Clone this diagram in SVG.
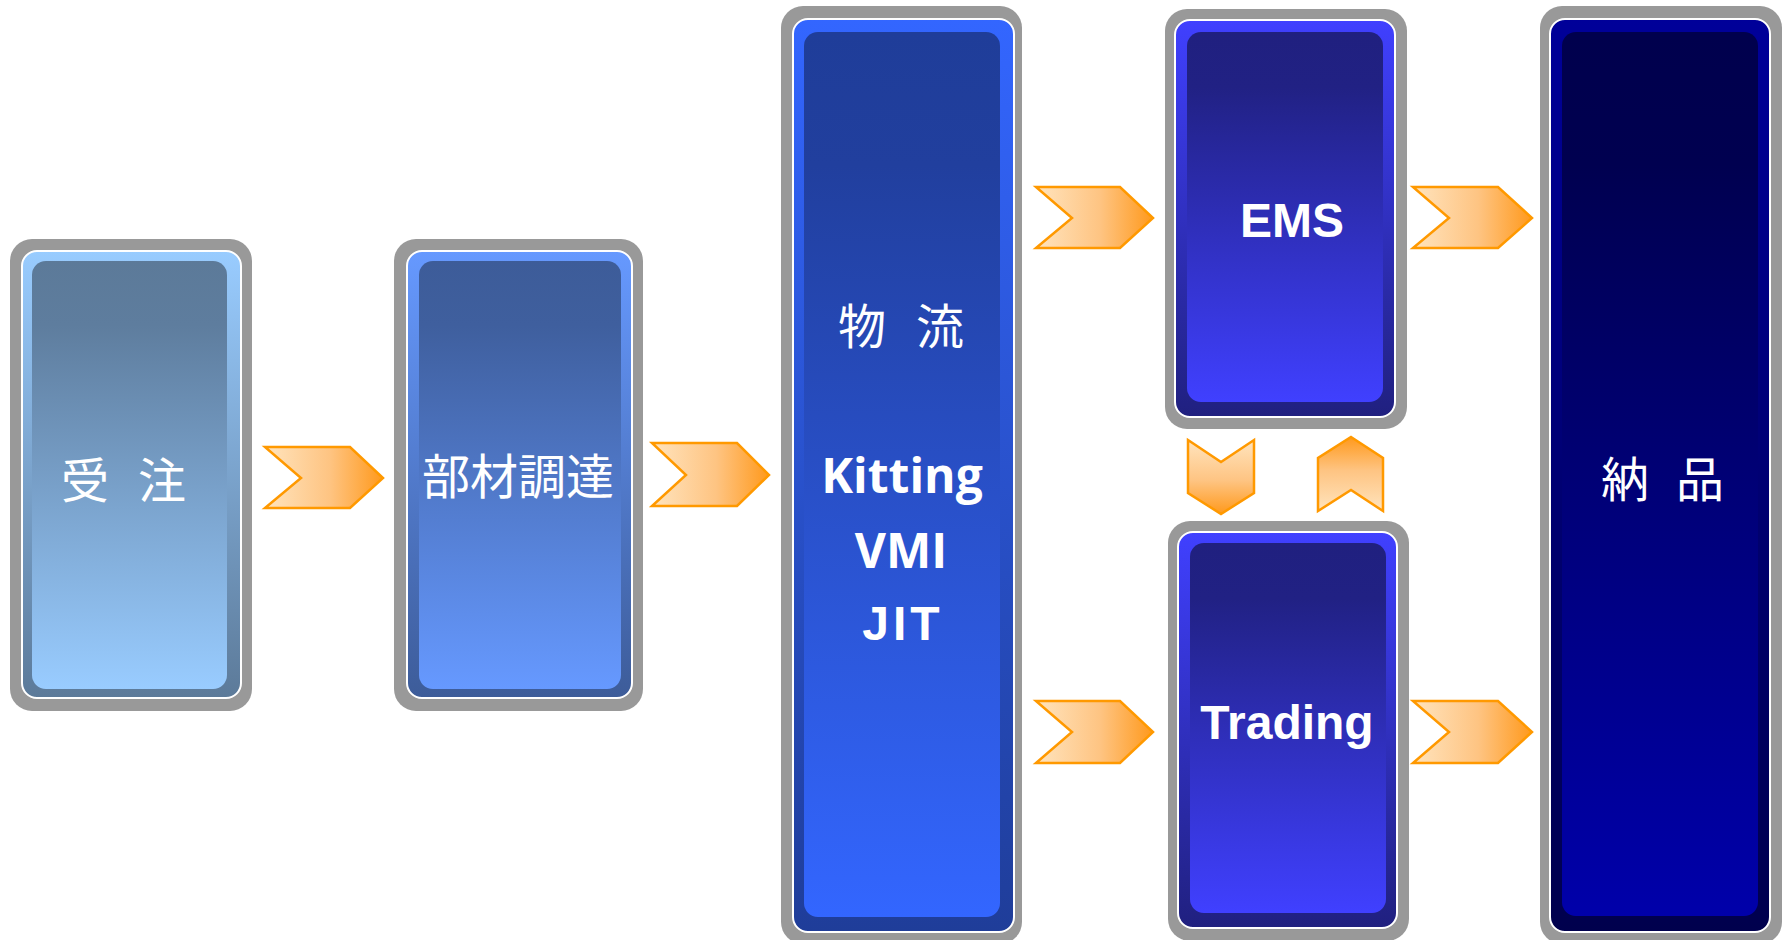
<svg xmlns="http://www.w3.org/2000/svg" width="1785" height="940" viewBox="0 0 1785 940">
<defs>
<style>
.gray{fill:#999999}
.frame{stroke:#ffffff;stroke-width:2}
.jp{font-family:"Noto Sans CJK JP","Noto Sans CJK SC",sans-serif;font-size:48px;fill:#ffffff;text-anchor:middle}
.en{font-family:"Liberation Sans",Arial,sans-serif;font-weight:bold;font-size:48px;fill:#ffffff;text-anchor:middle}
.en2{font-family:"Open Sans","DejaVu Sans",sans-serif;font-weight:bold;font-size:48px;fill:#ffffff;text-anchor:middle}
.chev{stroke:#FF9900;stroke-width:2.5;stroke-linejoin:miter}
</style>
<linearGradient id="f1" x1="0" y1="0" x2="0" y2="1"><stop offset="0" stop-color="#99CCFF"/><stop offset="1" stop-color="#5C7A99"/></linearGradient>
<linearGradient id="i1" x1="0" y1="0" x2="0" y2="1"><stop offset="0" stop-color="#5C7A99"/><stop offset="0.15" stop-color="#5E7D9E"/><stop offset="1" stop-color="#99CCFF"/></linearGradient>
<linearGradient id="f2" x1="0" y1="0" x2="0" y2="1"><stop offset="0" stop-color="#6699FF"/><stop offset="1" stop-color="#3D5C99"/></linearGradient>
<linearGradient id="i2" x1="0" y1="0" x2="0" y2="1"><stop offset="0" stop-color="#3D5C99"/><stop offset="0.15" stop-color="#3F5F9E"/><stop offset="1" stop-color="#6699FF"/></linearGradient>
<linearGradient id="f3" x1="0" y1="0" x2="0" y2="1"><stop offset="0" stop-color="#3366FF"/><stop offset="1" stop-color="#1F3D99"/></linearGradient>
<linearGradient id="i3" x1="0" y1="0" x2="0" y2="1"><stop offset="0" stop-color="#1F3D99"/><stop offset="0.15" stop-color="#213F9E"/><stop offset="1" stop-color="#3366FF"/></linearGradient>
<linearGradient id="f4" x1="0" y1="0" x2="0" y2="1"><stop offset="0" stop-color="#4040FF"/><stop offset="1" stop-color="#20207F"/></linearGradient>
<linearGradient id="i4" x1="0" y1="0" x2="0" y2="1"><stop offset="0" stop-color="#20207F"/><stop offset="0.15" stop-color="#212184"/><stop offset="1" stop-color="#4040FF"/></linearGradient>
<linearGradient id="f5" x1="0" y1="0" x2="0" y2="1"><stop offset="0" stop-color="#000099"/><stop offset="1" stop-color="#00004D"/></linearGradient>
<linearGradient id="i5" x1="0" y1="0" x2="0" y2="1"><stop offset="0" stop-color="#00004D"/><stop offset="0.15" stop-color="#000050"/><stop offset="1" stop-color="#0000AA"/></linearGradient>
<linearGradient id="ch" x1="0" y1="0" x2="1" y2="0"><stop offset="0" stop-color="#FFE4BE"/><stop offset="0.55" stop-color="#FEC482"/><stop offset="1" stop-color="#FF991C"/></linearGradient>
<linearGradient id="cd" x1="0" y1="0" x2="0" y2="1"><stop offset="0" stop-color="#FFE4BE"/><stop offset="0.55" stop-color="#FEC482"/><stop offset="1" stop-color="#FF991C"/></linearGradient>
<linearGradient id="cu" x1="0" y1="1" x2="0" y2="0"><stop offset="0" stop-color="#FFE4BE"/><stop offset="0.55" stop-color="#FEC482"/><stop offset="1" stop-color="#FF991C"/></linearGradient>
</defs>

<g id="node-juchu">
<rect class="gray" x="10" y="239" width="242" height="472" rx="22"/>
<rect class="frame" x="22" y="251" width="219" height="447" rx="15" fill="url(#f1)"/>
<rect x="32" y="261" width="195" height="428" rx="14" fill="url(#i1)"/>
<text class="jp" y="498"><tspan x="85">受</tspan><tspan x="162">注</tspan></text>
</g>

<g id="node-buzai">
<rect class="gray" x="394" y="239" width="249" height="472" rx="22"/>
<rect class="frame" x="407" y="251" width="225" height="447" rx="15" fill="url(#f2)"/>
<rect x="419" y="261" width="202" height="428" rx="14" fill="url(#i2)"/>
<text class="jp" x="518" y="494">部材調達</text>
</g>

<g id="node-butsuryu">
<rect class="gray" x="781" y="6" width="241" height="938" rx="22"/>
<rect class="frame" x="793" y="19" width="221" height="913" rx="15" fill="url(#f3)"/>
<rect x="804" y="32" width="196" height="885" rx="14" fill="url(#i3)"/>
<text class="jp" y="344"><tspan x="862">物</tspan><tspan x="940">流</tspan></text>
<text class="en2" x="902" y="493">Kitting</text>
<text class="en2" x="901" y="568">VMI</text>
<text class="en" x="903" y="640" letter-spacing="4">JIT</text>
</g>

<g id="node-ems">
<rect class="gray" x="1165" y="9" width="242" height="420" rx="22"/>
<rect class="frame" x="1175" y="20" width="220" height="397" rx="15" fill="url(#f4)"/>
<rect x="1187" y="32" width="196" height="370" rx="14" fill="url(#i4)"/>
<text class="en" x="1292" y="237">EMS</text>
</g>

<g id="node-trading">
<rect class="gray" x="1168" y="521" width="241" height="420" rx="22"/>
<rect class="frame" x="1178" y="532" width="219" height="396" rx="15" fill="url(#f4)"/>
<rect x="1190" y="543" width="196" height="370" rx="14" fill="url(#i4)"/>
<text class="en" x="1287" y="739">Trading</text>
</g>

<g id="node-nouhin">
<rect class="gray" x="1540" y="6" width="242" height="938" rx="22"/>
<rect class="frame" x="1550" y="19" width="220" height="913" rx="15" fill="url(#f5)"/>
<rect x="1562" y="32" width="196" height="884" rx="14" fill="url(#i5)"/>
<text class="jp" y="497"><tspan x="1625">納</tspan><tspan x="1700">品</tspan></text>
</g>

<g id="connectors">
<polygon class="chev" fill="url(#ch)" points="265,447 350,447 383,478 350,508 265,508 301,478"/>
<polygon class="chev" fill="url(#ch)" points="652,443 737,443 769,475 737,506 652,506 686,475"/>
<polygon class="chev" fill="url(#ch)" points="1036,187 1120,187 1153,218 1120,248 1036,248 1072,218"/>
<polygon class="chev" fill="url(#ch)" points="1036,701 1120,701 1153,732 1120,763 1036,763 1072,732"/>
<polygon class="chev" fill="url(#ch)" points="1413,187 1498,187 1532,218 1498,248 1413,248 1449,218"/>
<polygon class="chev" fill="url(#ch)" points="1413,701 1498,701 1532,732 1498,763 1413,763 1449,732"/>
<polygon class="chev" fill="url(#cd)" points="1188,440 1221,462 1254,440 1254,493 1221,514 1188,493"/>
<polygon class="chev" fill="url(#cu)" points="1351,437 1383,458 1383,511 1351,490 1318,511 1318,458"/>
</g>
</svg>
